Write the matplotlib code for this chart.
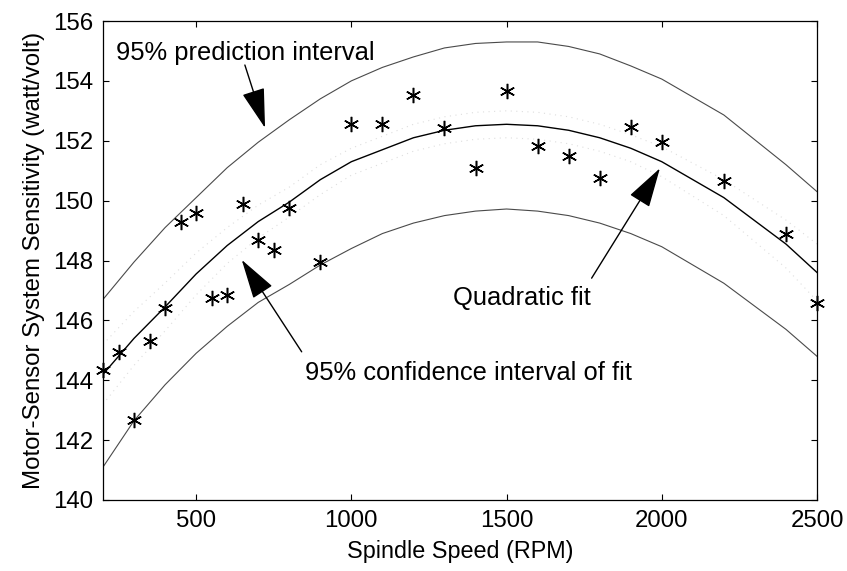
import matplotlib
matplotlib.use("Agg")
import matplotlib.pyplot as plt

plt.rcParams['font.family'] = ['Liberation Sans', 'DejaVu Sans']

# measured data
rpm = [200, 250, 300, 350, 400, 450, 500, 550, 600, 650, 700, 750, 800, 900,
       1000, 1100, 1200, 1300, 1400, 1500, 1600, 1700, 1800, 1900, 2000, 2200, 2400, 2500]
sens = [144.35, 144.95, 142.67, 145.3, 146.4, 149.3, 149.58, 146.75, 146.85, 149.9,
        148.7, 148.35, 149.75, 147.95, 152.56, 152.56, 153.52, 152.44, 151.1, 153.67,
        151.84, 151.5, 150.74, 152.47, 151.97, 150.65, 148.87, 146.58]

# curves
curve_rpm = [200, 300, 400, 500, 600, 700, 800, 900, 1000, 1100, 1200, 1300, 1400,
             1500, 1600, 1700, 1800, 1900, 2000, 2200, 2400, 2500]
fit = [144.2, 145.4, 146.45, 147.55, 148.5, 149.3, 149.95, 150.7, 151.3, 151.7, 152.1,
       152.35, 152.5, 152.55, 152.5, 152.35, 152.1, 151.75, 151.3, 150.1, 148.55, 147.6]
pi_upper = [146.7, 147.95, 149.1, 150.1, 151.1, 151.95, 152.7, 153.4, 154.0, 154.45, 154.8,
            155.1, 155.25, 155.3, 155.3, 155.15, 154.9, 154.5, 154.06, 152.86, 151.2, 150.3]
pi_lower = [141.1, 142.65, 143.85, 144.9, 145.8, 146.6, 147.2, 147.85, 148.4, 148.9, 149.25,
            149.5, 149.65, 149.72, 149.65, 149.5, 149.25, 148.9, 148.46, 147.24, 145.7, 144.8]
ci_upper = [145.2, 146.3, 147.25, 148.25, 149.1, 149.85, 150.45, 151.2, 151.75, 152.15, 152.55,
            152.8, 152.95, 153.0, 152.95, 152.8, 152.55, 152.2, 151.8, 150.7, 149.35, 148.55]
ci_lower = [143.2, 144.5, 145.65, 146.85, 147.9, 148.75, 149.45, 150.2, 150.85, 151.25, 151.65,
            151.9, 152.05, 152.1, 152.05, 151.9, 151.65, 151.3, 150.8, 149.5, 147.75, 146.65]

xticks = [500, 1000, 1500, 2000, 2500]
yticks = [140, 142, 144, 146, 148, 150, 152, 154, 156]

fig = plt.figure(figsize=(8.47, 5.71), dpi=100)
ax = fig.add_axes([103/847, 71/571, 714/847, 479/571])

ax.plot(curve_rpm, ci_upper, color='#dedede', lw=0.8, ls=(0, (1, 4)))
ax.plot(curve_rpm, ci_lower, color='#dedede', lw=0.8, ls=(0, (1, 4)))
ax.plot(curve_rpm, pi_upper, color='#4a4a4a', lw=0.8)
ax.plot(curve_rpm, pi_lower, color='#4a4a4a', lw=0.8)
ax.plot(curve_rpm, fit, color='black', lw=1.0)
ax.plot(rpm, sens, ls='none', marker=(6, 2, 0), ms=11, mew=1.1, color='black', clip_on=False)

ax.set_xlim(200, 2500)
ax.set_ylim(140, 156)
ax.set_xticks(xticks)
ax.set_yticks(yticks)
ax.tick_params(direction='in', length=4, width=0.8, top=True, right=True,
               labelsize=17.3, pad=7)
for s in ax.spines.values():
    s.set_linewidth(0.9)

ax.set_xlabel('Spindle Speed (RPM)', fontsize=16.8, labelpad=6)
ax.set_ylabel('Motor-Sensor System Sensitivity (watt/volt)', fontsize=17.3, labelpad=6)

arrow = dict(arrowstyle='-|>,head_length=0.9,head_width=0.26', mutation_scale=28,
             lw=1.0, color='black', shrinkA=0, shrinkB=0)
ax.text(242, 154.7, '95% prediction interval', fontsize=18.4, va='baseline', ha='left')
ax.annotate('', xy=(722, 152.43), xytext=(657, 154.53), arrowprops=arrow)
ax.text(851, 144.01, '95% confidence interval of fit', fontsize=18.4, va='baseline', ha='left')
ax.annotate('', xy=(647, 148.02), xytext=(840, 144.95), arrowprops=arrow)
ax.text(1327, 146.51, 'Quadratic fit', fontsize=18.4, va='baseline', ha='left')
ax.annotate('', xy=(1994, 151.08), xytext=(1774, 147.41), arrowprops=arrow)

fig.savefig('out.png', dpi=100)
